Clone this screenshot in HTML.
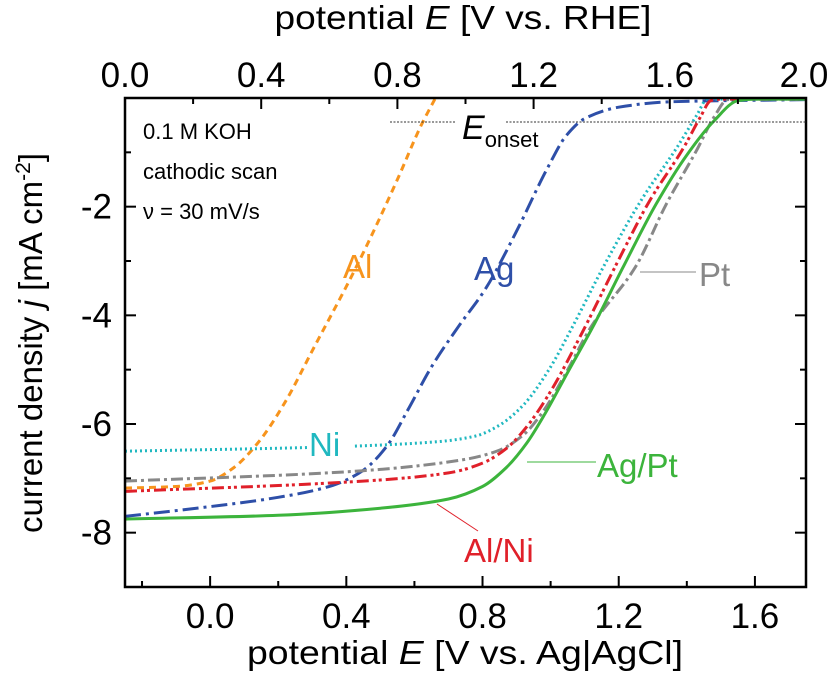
<!DOCTYPE html>
<html><head><meta charset="utf-8"><style>
body{margin:0;background:#fff;}
svg text{font-family:"Liberation Sans",sans-serif;}
</style></head><body>
<svg id="chart" width="829" height="680" viewBox="0 0 829 680">
<g id="marks"></g>
<rect x="125" y="98" width="681" height="489" fill="none" stroke="#000" stroke-width="2.5"/>
<g id="axes"></g>
<text x="463" y="29" font-size="33" text-anchor="middle" textLength="377" lengthAdjust="spacingAndGlyphs">potential <tspan font-style="italic">E</tspan> [V vs. RHE]</text>
<text x="465" y="664" font-size="33" text-anchor="middle" textLength="436" lengthAdjust="spacingAndGlyphs">potential <tspan font-style="italic">E</tspan> [V vs. Ag|AgCl]</text>
<text transform="translate(42,343) rotate(-90)" font-size="33" text-anchor="middle">current density <tspan font-style="italic">j</tspan> [mA cm<tspan dy="-12" font-size="21">-2</tspan><tspan dy="12">]</tspan></text>
<g font-size="22">
<text x="143" y="139">0.1 M KOH</text>
<text x="143" y="179">cathodic scan</text>
<text x="143" y="219">ν = 30 mV/s</text>
</g>
<line x1="390" y1="122" x2="455" y2="122" stroke="#333" stroke-width="1" stroke-dasharray="2,1.5"/>
<line x1="506" y1="122" x2="806" y2="122" stroke="#333" stroke-width="1" stroke-dasharray="2,1.5"/>
<text x="462" y="139" font-size="34" font-style="italic">E<tspan font-style="normal" font-size="22" dy="8">onset</tspan></text>
<line x1="640" y1="272" x2="696" y2="272" stroke="#888" stroke-width="1"/>
<line x1="527" y1="462" x2="596" y2="462" stroke="#3cb43c" stroke-width="1"/>
<line x1="437" y1="504" x2="478" y2="531" stroke="#e0202a" stroke-width="1"/>
<g font-size="33">
<text x="343" y="278" fill="#f7941d">Al</text>
<text x="474" y="280" fill="#2e4fa8">Ag</text>
<text x="699" y="286" fill="#888">Pt</text>
<rect x="308" y="428" width="46" height="32" fill="#fff"/>
<text x="309" y="456" fill="#20b8c0">Ni</text>
<text x="597" y="477" fill="#3cb43c">Ag/Pt</text>
<text x="464" y="562" fill="#e0202a">Al/Ni</text>
</g>
</svg>
<script>
const xTicks=[0.0,0.4,0.8,1.2,1.6];
const topTicks=[0.0,0.4,0.8,1.2,1.6,2.0];
const yTicks=[-2,-4,-6,-8];
const alE=[-0.25,-0.1,0.0,0.07,0.14,0.22,0.3,0.43,0.55,0.62,0.66];
const alJ=[-7.18,-7.15,-7.05,-6.8,-6.35,-5.6,-4.65,-3.1,-1.5,-0.5,0];
const agE=[-0.25,0.0,0.2,0.36,0.45,0.52,0.58,0.65,0.73,0.81,0.9,0.99,1.045,1.1,1.2,1.35,1.75];
const agJ=[-7.7,-7.52,-7.35,-7.13,-6.85,-6.4,-5.75,-4.95,-4.2,-3.5,-2.45,-1.3,-0.7,-0.38,-0.17,-0.07,-0.03];
const niE=[-0.25,0.3,0.66,0.78,0.85,0.92,0.995,1.065,1.16,1.27,1.37,1.43,1.46,1.5,1.75];
const niJ=[-6.5,-6.43,-6.33,-6.22,-6.02,-5.65,-5.0,-4.2,-3.05,-1.84,-0.92,-0.31,-0.02,0,0];
const alniE=[-0.25,0.4,0.7,0.8,0.87,0.93,1.0,1.09,1.19,1.29,1.39,1.44,1.47,1.5,1.75];
const alniJ=[-7.24,-7.07,-6.9,-6.72,-6.45,-6.05,-5.4,-4.35,-3.1,-1.9,-0.92,-0.35,-0.05,0,0];
const ptE=[-0.25,0.4,0.75,0.85,0.92,0.98,1.05,1.12,1.25,1.34,1.43,1.48,1.52,1.55,1.75];
const ptJ=[-7.05,-6.88,-6.65,-6.48,-6.2,-5.75,-5.0,-4.2,-3.1,-1.95,-0.95,-0.35,-0.03,0,0];
const agptE=[-0.25,0.2,0.5,0.7,0.8,0.87,0.93,0.98,1.05,1.125,1.21,1.31,1.4,1.48,1.55,1.6,1.75];
const agptJ=[-7.75,-7.68,-7.55,-7.38,-7.15,-6.8,-6.35,-5.85,-5.05,-4.2,-3.15,-1.95,-1.05,-0.42,-0.05,0,0];
const NS='http://www.w3.org/2000/svg';
const X0=125,X1=806,Y0=98,Y1=587,EMIN=-0.25,EMAX=1.75,JMIN=-9,JMAX=0;
const RHE=0.25;
function sx(e){return X0+(e-EMIN)/(EMAX-EMIN)*(X1-X0);}
function sy(j){return Y0+(JMAX-j)/(JMAX-JMIN)*(Y1-Y0);}
const marks=document.getElementById('marks'),axes=document.getElementById('axes');
function mk(tag,attrs,parent){const el=document.createElementNS(NS,tag);for(const k in attrs)el.setAttribute(k,attrs[k]);parent.appendChild(el);return el;}
function series(E,J,color,dash,name){
  const xs=E.map(sx),ys=J.map(j=>sy(Math.min(j,-0.02)));const n=xs.length;
  const dl=[],m=[];
  for(let i=0;i<n-1;i++)dl.push((ys[i+1]-ys[i])/(xs[i+1]-xs[i]));
  for(let i=0;i<n;i++){
    if(i===0)m.push(dl[0]);else if(i===n-1)m.push(dl[n-2]);
    else if(dl[i-1]*dl[i]<=0)m.push(0);
    else{const h0=xs[i]-xs[i-1],h1=xs[i+1]-xs[i];const w1=2*h1+h0,w2=h1+2*h0;m.push((w1+w2)/(w1/dl[i-1]+w2/dl[i]));}
  }
  let d='M'+xs[0].toFixed(1)+','+ys[0].toFixed(1);
  for(let i=0;i<n-1;i++){const h=(xs[i+1]-xs[i])/3;
    d+=' C'+(xs[i]+h).toFixed(1)+','+(ys[i]+m[i]*h).toFixed(1)+' '+(xs[i+1]-h).toFixed(1)+','+(ys[i+1]-m[i+1]*h).toFixed(1)+' '+xs[i+1].toFixed(1)+','+ys[i+1].toFixed(1);}
  const p=mk('path',{d:d,fill:'none',stroke:color,'stroke-width':3,'stroke-dasharray':dash,'stroke-linejoin':'round'},marks);
  
  
}
const cp=mk('clipPath',{id:'cp'},marks);mk('rect',{x:X0,y:Y0,width:X1-X0,height:Y1-Y0},cp);
marks.setAttribute('clip-path','url(#cp)');
series(alE,alJ,'#f7941d','7,5','series-al');
series(agE,agJ,'#2e4fa8','16,5,3,5','series-ag');
series(niE,niJ,'#20b8c0','2,3','series-ni');
series(ptE,ptJ,'#888','12,4,3,4','series-pt');
series(alniE,alniJ,'#e0202a','12,4,3,3,3,4','series-alni');
series(agptE,agptJ,'#3cb43c','','series-agpt');
for(let e=-0.2;e<=1.72;e+=0.2){const x=sx(e);const maj=xTicks.some(t=>Math.abs(t-e)<1e-6);
 mk('line',{x1:x,y1:Y1,x2:x,y2:Y1-(maj?11:6),stroke:'#000','stroke-width':2},axes);}
xTicks.forEach(t=>{const tx=mk('text',{x:sx(t),y:628,'font-size':35,'text-anchor':'middle'},axes);tx.textContent=t.toFixed(1);
 
 });
for(let r=0.2;r<2.0;r+=0.2){const x=sx(r-RHE);const maj=topTicks.some(t=>Math.abs(t-r)<1e-6);
 mk('line',{x1:x,y1:Y0,x2:x,y2:Y0+(maj?11:6),stroke:'#000','stroke-width':2},axes);}
topTicks.forEach(t=>{const tx=mk('text',{x:Math.min(sx(t-RHE),804),y:87,'font-size':35,'text-anchor':'middle'},axes);tx.textContent=t.toFixed(1);
 
 });
for(let j=-1;j>=-9;j--){const y=sy(j);const maj=yTicks.includes(j);const L=maj?11:6;
 mk('line',{x1:X0,y1:y,x2:X0+L,y2:y,stroke:'#000','stroke-width':2},axes);
 mk('line',{x1:X1,y1:y,x2:X1-L,y2:y,stroke:'#000','stroke-width':2},axes);}
yTicks.forEach(t=>{const tx=mk('text',{x:112,y:sy(t)+12,'font-size':35,'text-anchor':'end'},axes);tx.textContent=String(t);
 
 });
</script>
</body></html>
